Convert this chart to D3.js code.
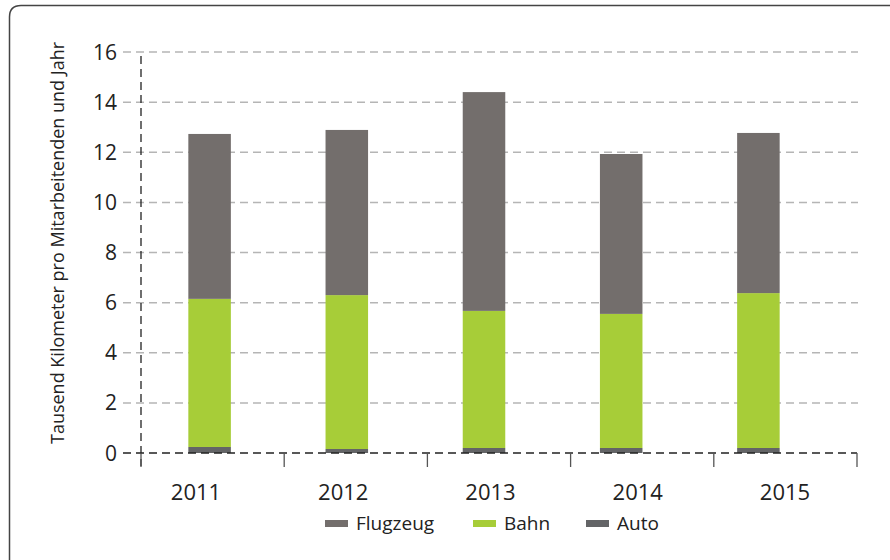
<!DOCTYPE html>
<meta charset="utf-8">
<script src="https://d3js.org/d3.v7.min.js"></script>
<style>
body { margin: 0; background: #fff; }
text { font-family: "Open Sans", "Noto Sans", sans-serif; fill: #222; }
</style>
<div id="my_dataviz"></div>
<script>

// data
var years = ["2011", "2012", "2013", "2014", "2015"];
var auto = [0.24, 0.16, 0.2, 0.2, 0.2];
var bahn = [5.91, 6.14, 5.47, 5.35, 6.18];
var flugzeug = [6.58, 6.59, 8.73, 6.38, 6.39];
var yTicks = [0, 2, 4, 6, 8, 10, 12, 14, 16];
var seriesNames = ["Flugzeug", "Bahn", "Auto"];
var colors = {Flugzeug: "#736e6c", Bahn: "#a7cd38", Auto: "#636466"};

var svg = d3.select("#my_dataviz")
  .append("svg")
    .attr("width", 890)
    .attr("height", 560);

// frame with rounded top-left corner
svg.append("path")
  .attr("d", "M9.5,560 L9.5,17 Q9.5,5.5 21,5.5 L895,5.5")
  .attr("fill", "none")
  .attr("stroke", "#444")
  .attr("stroke-width", 1.5);

var plotLeft = 141, plotRight = 857, plotTop = 52, plotBottom = 453;

var y = d3.scaleLinear().domain([0, 16]).range([plotBottom, plotTop]);

// axis ticks span the whole width, bars and labels sit a bit off
var xTick = d3.scaleBand().domain(years).range([plotLeft, plotRight]);
var xBar = d3.scaleBand().domain(years).range([plotLeft, 827]).paddingInner(0.69).paddingOuter(0.345);
var xLabel = d3.scalePoint().domain(years).range([196, 785]);

// grid
svg.append("g")
  .selectAll("line")
  .data(yTicks.filter(function(d) { return d > 0; }))
  .enter()
  .append("line")
    .attr("x1", 123).attr("x2", 858)
    .attr("y1", function(d) { return y(d); })
    .attr("y2", function(d) { return y(d); })
    .attr("stroke", "#b5b5b5")
    .attr("stroke-width", 1.5)
    .attr("stroke-dasharray", "8,5");

// y tick labels
svg.append("g")
  .selectAll("text")
  .data(yTicks)
  .enter()
  .append("text")
    .attr("x", 117)
    .attr("y", function(d) { return y(d); })
    .attr("dy", "0.36em")
    .attr("text-anchor", "end")
    .style("font-size", "21px")
    .text(function(d) { return d; });

// stacked bars
var rows = years.map(function(yr, i) {
  return {year: yr, Auto: auto[i], Bahn: bahn[i], Flugzeug: flugzeug[i]};
});
var stack = d3.stack().keys(["Auto", "Bahn", "Flugzeug"])(rows);

svg.append("g")
  .selectAll("g")
  .data(stack)
  .enter()
  .append("g")
    .attr("fill", function(d) { return colors[d.key]; })
  .selectAll("rect")
  .data(function(d) { return d; })
  .enter()
  .append("rect")
    .attr("x", function(d) { return xBar(d.data.year); })
    .attr("width", xBar.bandwidth())
    .attr("y", function(d) { return y(d[1]); })
    .attr("height", function(d) { return y(d[0]) - y(d[1]); });

// y axis (dashed)
svg.append("line")
  .attr("x1", plotLeft).attr("x2", plotLeft)
  .attr("y1", y(16) + 4).attr("y2", plotBottom + 13)
  .attr("stroke", "#222")
  .attr("stroke-width", 1.3)
  .attr("stroke-dasharray", "8,5");

// x axis baseline (dashed)
svg.append("line")
  .attr("x1", 123).attr("x2", plotRight)
  .attr("y1", plotBottom).attr("y2", plotBottom)
  .attr("stroke", "#222")
  .attr("stroke-width", 1.3)
  .attr("stroke-dasharray", "8,5");

// x ticks
var tickPos = years.map(function(d) { return xTick(d); }).concat([xTick(years[4]) + xTick.bandwidth()]);
svg.append("g")
  .selectAll("line")
  .data(tickPos)
  .enter()
  .append("line")
    .attr("x1", function(d) { return d; })
    .attr("x2", function(d) { return d; })
    .attr("y1", plotBottom)
    .attr("y2", plotBottom + 14)
    .attr("stroke", "#555")
    .attr("stroke-width", 1.3);

// x labels
svg.append("g")
  .selectAll("text")
  .data(years)
  .enter()
  .append("text")
    .attr("x", function(d) { return xLabel(d); })
    .attr("y", 500)
    .attr("text-anchor", "middle")
    .style("font-size", "22px")
    .text(function(d) { return d; });

// y axis title
svg.append("text")
  .attr("transform", "translate(64,243) rotate(-90)")
  .attr("text-anchor", "middle")
  .style("font-size", "18px")
  .text("Tausend Kilometer pro Mitarbeitenden  und Jahr");

// legend
var legendX = [325, 473, 586];
var legend = svg.append("g")
  .selectAll("g")
  .data(seriesNames)
  .enter()
  .append("g")
    .attr("transform", function(d, i) { return "translate(" + legendX[i] + ",0)"; });
legend.append("rect")
  .attr("x", 0).attr("y", 520)
  .attr("width", 23).attr("height", 7)
  .attr("fill", function(d) { return colors[d]; });
legend.append("text")
  .attr("x", 31).attr("y", 530)
  .style("font-size", "19px")
  .text(function(d) { return d; });

</script>
